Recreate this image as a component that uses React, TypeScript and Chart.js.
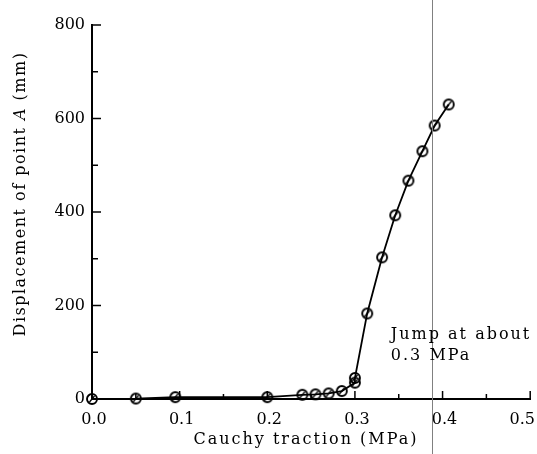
import React, { useEffect, useRef } from "react";
import { Chart, registerables } from "chart.js";

Chart.register(...registerables);

const tractionMPa = [0, 0.05, 0.095, 0.2, 0.24, 0.255, 0.27, 0.285, 0.3, 0.3, 0.314, 0.331, 0.346, 0.361, 0.377, 0.391, 0.407];
const displacementMm = [0, 1, 4, 4, 9, 10, 12, 17, 35, 45, 183, 303, 393, 467, 530, 585, 630];
const xTickValues = [0, 0.1, 0.2, 0.3, 0.4, 0.5];
const xTickLabels = ["0.0", "0.1", "0.2", "0.3", "0.4", "0.5"];
const yTickValues = [0, 200, 400, 600, 800];
const jumpLineX = 0.388;
const annotationLines = ["Jump at about", "0.3 MPa"];
const annotationAt = { x: 0.341, y: 128 };
const xTitle = "Cauchy traction (MPa)";
const yTitleParts = [
  { text: "Displacement of point ", italic: false },
  { text: "A", italic: true },
  { text: " (mm)", italic: false },
];

const FONT = "DejaVu Serif";

function makeMarker(): HTMLCanvasElement {
  const c = document.createElement("canvas");
  c.width = 14;
  c.height = 14;
  const g = c.getContext("2d")!;
  g.strokeStyle = "#000";
  g.lineWidth = 1.9;
  g.beginPath();
  g.arc(7, 7, 5, 0, Math.PI * 2);
  g.stroke();
  g.lineWidth = 1.3;
  g.beginPath();
  g.moveTo(4.5, 10);
  g.lineTo(9.5, 4);
  g.stroke();
  return c;
}

const decorPlugin = {
  id: "decor",
  afterDraw(chart: any) {
    const ctx = chart.ctx as any;
    const xs = chart.scales.x;
    const ys = chart.scales.y;
    const area = chart.chartArea;
    ctx.save();
    // inward ticks
    ctx.strokeStyle = "#000";
    ctx.lineWidth = 1.5;
    for (let v = 0; v <= 800; v += 100) {
      const py = ys.getPixelForValue(v);
      const len = v % 200 === 0 ? 9 : 6;
      ctx.beginPath();
      ctx.moveTo(area.left, py);
      ctx.lineTo(area.left + len, py);
      ctx.stroke();
    }
    for (let i = 0; i <= 10; i++) {
      const v = i * 0.05;
      const px = xs.getPixelForValue(v);
      const len = i % 2 === 0 ? 8 : 5;
      ctx.beginPath();
      ctx.moveTo(px, area.bottom);
      ctx.lineTo(px, area.bottom - len);
      ctx.stroke();
    }
    // x tick labels
    ctx.fillStyle = "#000";
    ctx.font = `16px "${FONT}"`;
    ctx.textAlign = "left";
    ctx.textBaseline = "alphabetic";
    xTickValues.forEach((v, i) => {
      const t = xTickLabels[i];
      const w = ctx.measureText(t).width;
      let left = xs.getPixelForValue(v) - w / 2 + 2;
      if (left + w > chart.width - 2) left = chart.width - 2 - w;
      ctx.fillText(t, left, 424);
    });
    // vertical gray line
    const lx = Math.round(xs.getPixelForValue(jumpLineX)) + 0.5;
    ctx.strokeStyle = "#808080";
    ctx.lineWidth = 1;
    ctx.beginPath();
    ctx.moveTo(lx, 0);
    ctx.lineTo(lx, chart.height);
    ctx.stroke();
    // annotation
    ctx.fillStyle = "#000";
    ctx.font = `16px "${FONT}"`;
    ctx.letterSpacing = "2px";
    const ax = xs.getPixelForValue(annotationAt.x);
    const ay = ys.getPixelForValue(annotationAt.y);
    annotationLines.forEach((t: string, i: number) => ctx.fillText(t, ax, ay + i * 21));
    // x title
    const xw = ctx.measureText(xTitle).width;
    ctx.fillText(xTitle, 306 - xw / 2, 444);
    // y title
    ctx.letterSpacing = "1.5px";
    ctx.translate(21, 194);
    ctx.rotate(-Math.PI / 2);
    ctx.textBaseline = "middle";
    let total = 0;
    const widths = yTitleParts.map((p) => {
      ctx.font = `${p.italic ? "italic " : ""}16px "${FONT}"`;
      const w = ctx.measureText(p.text).width;
      total += w;
      return w;
    });
    let cx = -total / 2;
    yTitleParts.forEach((p, i) => {
      ctx.font = `${p.italic ? "italic " : ""}16px "${FONT}"`;
      ctx.fillText(p.text, cx, 0);
      cx += widths[i];
    });
    ctx.restore();
  },
};

export default function App() {
  const ref = useRef<HTMLCanvasElement | null>(null);
  useEffect(() => {
    if (!ref.current) return;
    const marker = makeMarker();
    const points = tractionMPa.map((x, i) => ({ x, y: displacementMm[i] }));
    const chart = new Chart(ref.current, {
      type: "scatter",
      data: {
        datasets: [
          {
            data: points,
            showLine: true,
            borderColor: "#000",
            borderWidth: 1.8,
            pointStyle: marker as any,
            pointRadius: 5,
            tension: 0,
            clip: false as any,
          },
        ],
      },
      options: {
        responsive: false,
        animation: false,
        layout: { padding: { left: 0, top: 25, right: 6, bottom: 0 } },
        plugins: { legend: { display: false }, tooltip: { enabled: false } },
        scales: {
          x: {
            type: "linear",
            min: 0,
            max: 0.5,
            afterBuildTicks: (s: any) => {
              s.ticks = xTickValues.map((v) => ({ value: v }));
            },
            ticks: {
              color: "rgba(0,0,0,0)",
              font: { family: FONT, size: 16 },
              padding: 4,
              maxRotation: 0,
              callback: (v: any) => Number(v).toFixed(1),
            },
            grid: { display: false, drawTicks: true, tickLength: 6 },
            border: { display: true, color: "#000", width: 2 },
            afterFit: (s: any) => {
              s.height = 55;
              s.paddingLeft = 0;
              s.paddingRight = 0;
            },
          },
          y: {
            type: "linear",
            min: 0,
            max: 800,
            afterBuildTicks: (s: any) => {
              s.ticks = yTickValues.map((v) => ({ value: v }));
            },
            ticks: {
              color: "#000",
              font: { family: FONT, size: 16 },
              padding: 7,
              callback: (v: any) => String(v),
            },
            grid: { display: false, drawTicks: false },
            border: { display: true, color: "#000", width: 2 },
            afterFit: (s: any) => {
              s.width = 92;
              s.paddingTop = 0;
              s.paddingBottom = 0;
            },
          },
        },
      },
      plugins: [decorPlugin],
    });
    return () => chart.destroy();
  }, []);
  return (
    <div style={{ position: "fixed", left: 0, top: 0, width: 537, height: 454, background: "#fff" }}>
      <canvas ref={ref} width={537} height={454} style={{ display: "block" }} />
    </div>
  );
}
